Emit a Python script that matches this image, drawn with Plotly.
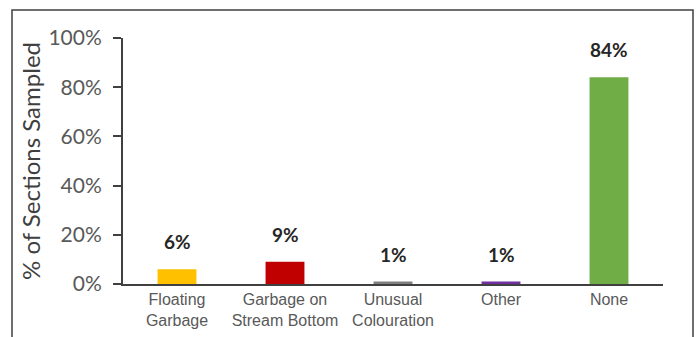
import plotly.graph_objects as go

categories = ["Floating<br>Garbage", "Garbage on<br>Stream Bottom", "Unusual<br>Colouration", "Other", "None"]
values = [6, 9, 1, 1, 84]
labels = ["6%", "9%", "1%", "1%", "84%"]
colors = ["#FFC000", "#C00000", "#7F7F7F", "#7030A0", "#70AD47"]
y_ticks = [0, 20, 40, 60, 80, 100]
y_ticktext = ["0%", "20%", "40%", "60%", "80%", "100%"]

fig = go.Figure(go.Bar(x=categories, y=values, marker=dict(color=colors, line=dict(width=0)),
                       hoverinfo="skip"))

for c, v, t in zip(categories, values, labels):
    fig.add_annotation(x=c, y=v, text="<b>" + t + "</b>", showarrow=False,
                       yanchor="bottom", yshift=14,
                       font=dict(family="Lato, sans-serif", size=19, color="#262626"))

fig.update_layout(
    width=698, height=337,
    margin=dict(l=123, r=35, t=38, b=53),
    paper_bgcolor="white", plot_bgcolor="white",
    bargap=0.64, showlegend=False,
    font=dict(family="Lato, sans-serif", color="#595959"),
)
fig.update_xaxes(showline=True, linecolor="#404040", linewidth=2, ticks="", showgrid=False,
                 automargin=False,
                 tickfont=dict(family="Liberation Sans, Arial, sans-serif", size=16, color="#595959"))
fig.update_yaxes(range=[0, 100], tickvals=y_ticks, ticktext=y_ticktext, showline=True,
                 linecolor="#404040", linewidth=2, ticks="outside", ticklen=8, tickwidth=2,
                 tickcolor="#404040", showgrid=False, zeroline=False, automargin=False,
                 ticklabelstandoff=7,
                 tickfont=dict(family="Lato, sans-serif", size=21, color="#595959"),
                 title=dict(text="% of Sections Sampled", standoff=1,
                            font=dict(family="Lato, sans-serif", size=24, color="#404040")))

fig.add_shape(type="rect", xref="paper", yref="paper",
              x0=(12 - 123) / 540, x1=(693 - 123) / 540,
              y0=-0.3, y1=(284 - 10) / 246,
              line=dict(color="#404040", width=1.5), fillcolor="rgba(0,0,0,0)", layer="below")

fig.write_html("out.html", config={"displayModeBar": False},
               post_script="document.body.style.margin='0';")
